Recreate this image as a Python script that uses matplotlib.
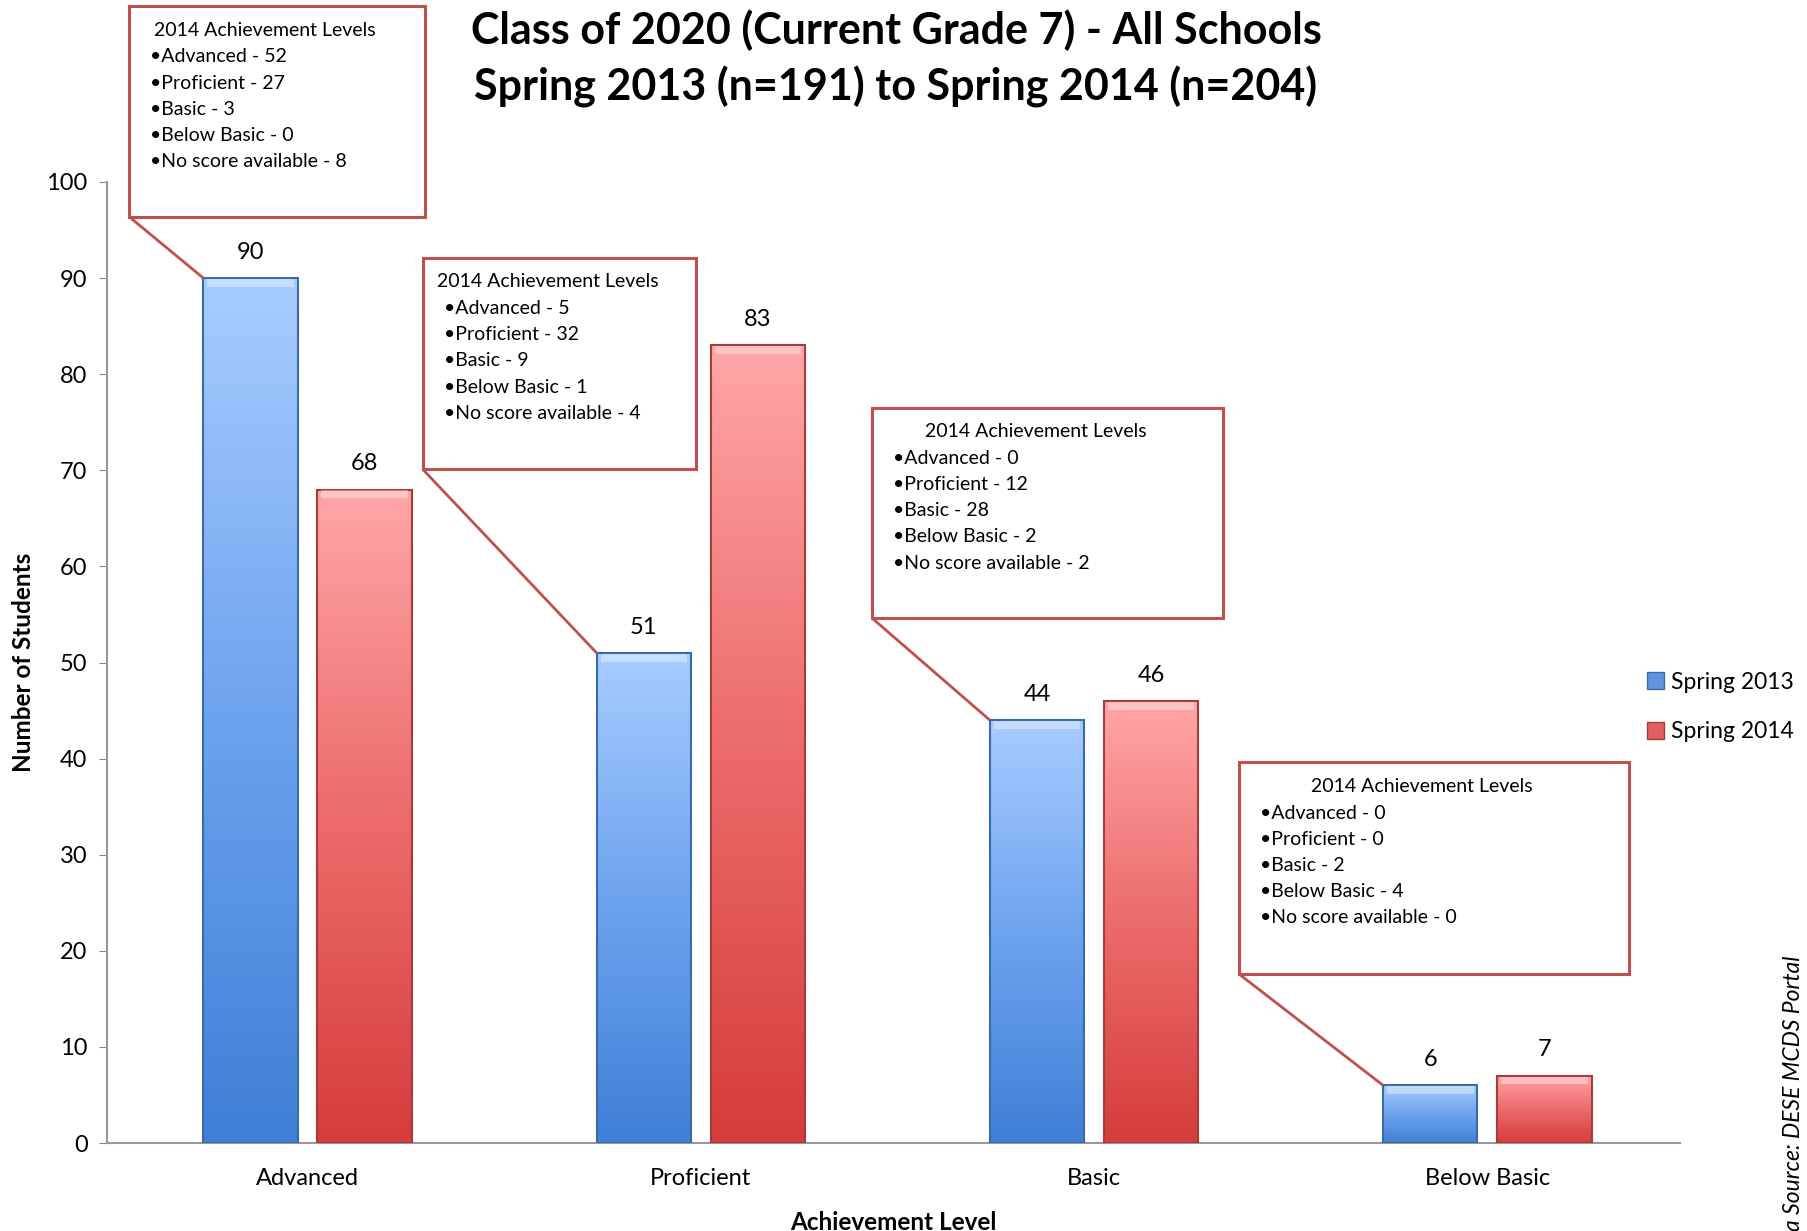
import numpy as np
import matplotlib
matplotlib.use("Agg")
import matplotlib.pyplot as plt
from matplotlib.patches import Rectangle, Patch
from matplotlib.colors import LinearSegmentedColormap

plt.rcParams['font.family'] = ['Lato', 'DejaVu Sans']

categories = ["Advanced", "Proficient", "Basic", "Below Basic"]
spring_2013 = [90, 51, 44, 6]
spring_2014 = [68, 83, 46, 7]
series_names = ["Spring 2013", "Spring 2014"]

box_lines = [
    ["Advanced - 52", "Proficient - 27", "Basic - 3", "Below Basic - 0", "No score available - 8"],
    ["Advanced - 5", "Proficient - 32", "Basic - 9", "Below Basic - 1", "No score available - 4"],
    ["Advanced - 0", "Proficient - 12", "Basic - 28", "Below Basic - 2", "No score available - 2"],
    ["Advanced - 0", "Proficient - 0", "Basic - 2", "Below Basic - 4", "No score available - 0"],
]
box_title = "2014 Achievement Levels"
# box extents in data coords: (x0, x1, y_bottom, y_top)
box_pos = [(-0.454, 0.299, 96.4, 118.3),
           (0.293, 0.987, 70.1, 92.1),
           (1.436, 2.327, 54.6, 76.5),
           (2.368, 3.361, 17.6, 39.6)]

W, H = 1807, 1231
fig = plt.figure(figsize=(W / 100, H / 100), dpi=100)
ax = fig.add_axes([107 / W, 1 - 1143 / H, (1680 - 107) / W, (1143 - 182) / H])

bw = 0.24
off = 0.145
x = np.arange(len(categories))

blue_cmap = LinearSegmentedColormap.from_list("b", ["#3f7fd6", "#6ea3ee", "#a8ccff"])
red_cmap = LinearSegmentedColormap.from_list("r", ["#d63c3c", "#ec6b6b", "#ffa6a6"])
grad = np.linspace(0, 1, 256).reshape(-1, 1)

def draw_bar(xc, h, cmap, edge):
    x0 = xc - bw / 2
    ax.imshow(grad, cmap=cmap, origin='lower', extent=(x0, x0 + bw, 0, h),
              aspect='auto', zorder=2, interpolation='bicubic')
    ax.add_patch(Rectangle((x0, 0), bw, h, fill=False, edgecolor=edge, lw=1.5, zorder=3))
    ax.add_patch(Rectangle((x0 + 0.01, h - 0.9), bw - 0.02, 0.8, facecolor='white',
                           alpha=0.35, lw=0, zorder=3))

for i in range(len(categories)):
    draw_bar(x[i] - off, spring_2013[i], blue_cmap, "#3a6aa8")
    draw_bar(x[i] + off, spring_2014[i], red_cmap, "#a83a3a")
    ax.text(x[i] - off, spring_2013[i] + 1.6, str(spring_2013[i]), ha='center', va='bottom', fontsize=17)
    ax.text(x[i] + off, spring_2014[i] + 1.6, str(spring_2014[i]), ha='center', va='bottom', fontsize=17)

ax.set_xlim(-0.51, 3.49)
ax.set_ylim(0, 100)
ax.set_yticks(np.arange(0, 101, 10))
ax.set_xticks(x)
ax.set_xticklabels(categories, fontsize=17)
ax.tick_params(axis='y', labelsize=17, length=6, color='#888888', pad=8)
ax.tick_params(axis='x', length=0, pad=18)
for s in ['top', 'right']:
    ax.spines[s].set_visible(False)
for s in ['left', 'bottom']:
    ax.spines[s].set_color('#999999')
    ax.spines[s].set_linewidth(1.5)

ax.set_ylabel("Number of Students", fontsize=17.5, fontweight='bold', labelpad=8)
ax.set_xlabel("Achievement Level", fontsize=17.5, fontweight='bold', labelpad=16)

# callout boxes
edge_col = "#c0504d"
for i, (x0, x1, yb, yt) in enumerate(box_pos):
    ax.add_patch(Rectangle((x0, yb), x1 - x0, yt - yb, facecolor='white',
                           edgecolor=edge_col, lw=2.2, zorder=5, clip_on=False))
    bar_left = x[i] - off - bw / 2
    ax.plot([x0, bar_left], [yb, spring_2013[i]], color=edge_col, lw=2, zorder=4,
            clip_on=False, solid_capstyle='butt')
    ax.text((x0 + x1) / 2 - 0.03, yt - 2.5, box_title, ha='center', va='center',
            fontsize=14, zorder=6, clip_on=False)
    for j, line in enumerate(box_lines[i]):
        ax.text(x0 + 0.053, yt - 5.28 - 2.72 * j, "\u2022" + line, ha='left', va='center',
                fontsize=14, zorder=6, clip_on=False)

# title
fig.text(896 / W, 1 - 30 / H, "Class of 2020 (Current Grade 7) - All Schools",
         ha='center', va='center', fontsize=31, fontweight='bold')
fig.text(896 / W, 1 - 87 / H, "Spring 2013 (n=191) to Spring 2014 (n=204)",
         ha='center', va='center', fontsize=31, fontweight='bold')

# legend
handles = [Patch(facecolor="#5f93dc", edgecolor="#3a6aa8"),
           Patch(facecolor="#e06060", edgecolor="#a83a3a")]
fig.legend(handles, series_names, loc='center left', bbox_to_anchor=(1638 / W, 1 - 707 / H),
           frameon=False, fontsize=16.5, handlelength=0.75, handleheight=0.75,
           handletextpad=0.3, labelspacing=1.25, borderaxespad=0)

# source text (cut off at bottom edge, as in the original)
fig.text(1793 / W, 1 - 956 / H, "Data Source: DESE MCDS Portal", rotation=90,
         ha='center', va='top', fontsize=16.5, style='italic')

fig.savefig("out.png", dpi=100)
